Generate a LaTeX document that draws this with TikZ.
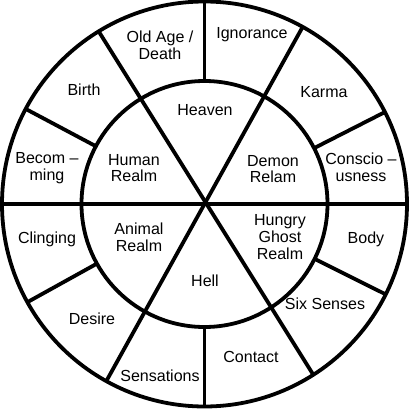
\documentclass[tikz,border=0pt]{standalone}
\usepackage{fontspec}
\setmainfont{Liberation Sans}

\begin{document}
\begin{tikzpicture}[
    x=0.025cm, y=0.025cm,
    every node/.style={font=\fontsize{11.4}{12}\selectfont, align=center, inner sep=0pt},
    wheel/.style={draw, line width=2.7pt},
]
\useasboundingbox (-204.5,-205) rectangle (204.5,204);
\fill[white] (-204.5,-205) rectangle (204.5,204);
\coordinate (hub) at (0,0);

% rings and spokes
\draw[wheel] (hub) circle (202.5);
\draw[wheel] (hub) circle (123);
\draw[wheel] (180:202.5) -- (0:202.5);
\draw[wheel] (121.5:202.5) -- (302.5:202.5);
\draw[wheel] (61:202.5) -- (241:202.5);
\draw[wheel] (90:123) -- (90:202.5);
\draw[wheel] (270:123) -- (270:202.5);
\draw[wheel] (27:123) -- (27:202.5);
\draw[wheel] (152:123) -- (152:202.5);
\draw[wheel] (209:123) -- (209:202.5);
\draw[wheel] (333.5:123) -- (333.5:202.5);

% inner realms
\node (heaven) at (0.5,94) {Heaven};
\node (human) at (-70.5,36) {Human\\Realm};
\node (demon) at (68.5,35) {Demon\\Relam};
\node (animal) at (-65.5,-33) {Animal\\Realm};
\node (ghost) at (75.5,-33) {Hungry\\Ghost\\Realm};
\node (hell) at (0.5,-77) {Hell};

% outer links
\node (oldage) at (-44.5,159) {Old Age /\\Death};
\node (ignorance) at (47.5,169) {Ignorance};
\node (birth) at (-120.5,114) {Birth};
\node (karma) at (119.5,112) {Karma};
\node (becoming) at (-157.5,36) {Becom --\\ming};
\node (conscious) at (156.5,37) {Conscio --\\usness};
\node (clinging) at (-157.5,-35) {Clinging};
\node (body) at (161.5,-35) {Body};
\node (desire) at (-112.5,-115) {Desire};
\node (senses) at (120.5,-100) {Six Senses};
\node (sensations) at (-44.5,-172) {Sensations};
\node (contact) at (46.5,-153) {Contact};
\end{tikzpicture}
\end{document}
